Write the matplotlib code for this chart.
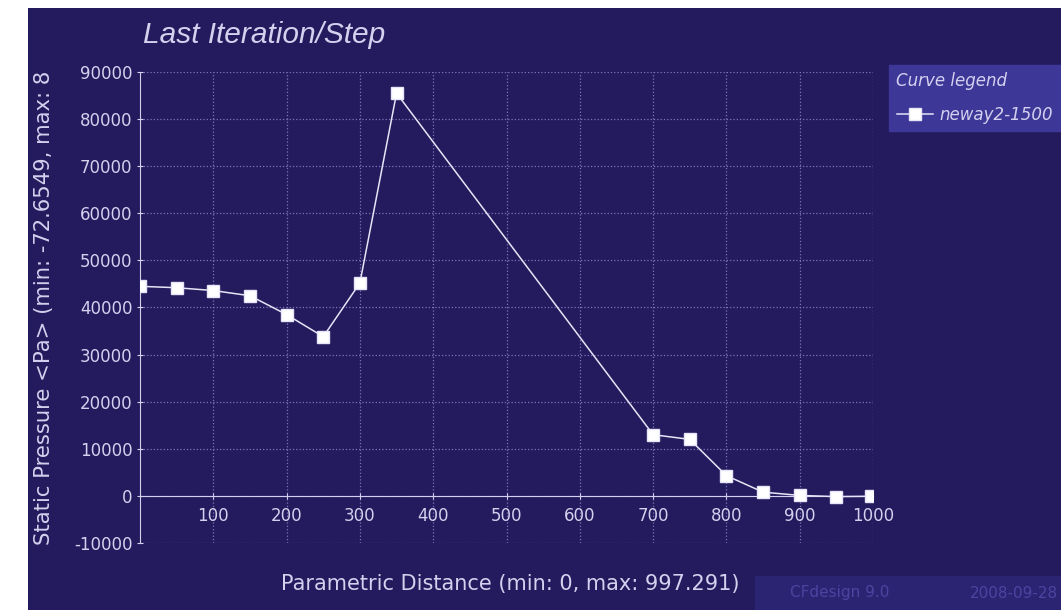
import matplotlib
matplotlib.use("Agg")
import matplotlib.pyplot as plt
from matplotlib.patches import Rectangle

# curve values
distance = [0, 50, 100, 150, 200, 250, 300, 350, 700, 750, 800, 850, 900, 950, 997.291]
pressure = [44500, 44200, 43600, 42500, 38500, 33800, 45200, 85500,
            13000, 12000, 4300, 800, 100, -150, -72.6549]
x_ticks = [100, 200, 300, 400, 500, 600, 700, 800, 900, 1000]
y_ticks = [-10000, 0, 10000, 20000, 30000, 40000, 50000, 60000, 70000, 80000, 90000]

bg = '#241b5e'
fg = '#d4d0ee'
grid_c = '#7c76b8'

fig = plt.figure(figsize=(10.61, 6.10), dpi=100, facecolor='white')
W, H = 1061, 610

# dark panel behind everything
fig.patches.append(Rectangle((28 / W, 0), 1, (H - 8) / H, transform=fig.transFigure,
                             facecolor=bg, edgecolor='none', zorder=-2))
# faint footer box
fig.patches.append(Rectangle((755 / W, 0), 1, 34 / H, transform=fig.transFigure,
                             facecolor='#2b2473', edgecolor='none', zorder=-1))
fig.text(790 / W, 17 / H, 'CFdesign 9.0', color='#4a45a0', fontsize=11,
         va='center')
fig.text(1058 / W, 17 / H, '2008-09-28', color='#4a45a0', fontsize=11,
         va='center', ha='right')

ax = fig.add_axes([140 / W, (H - 543) / H, 733 / W, 471 / H])
ax.set_facecolor('none')
ax.set_xlim(0, 1000)
ax.set_ylim(-10000, 90000)

for s in ['top', 'right']:
    ax.spines[s].set_visible(False)
ax.spines['bottom'].set_position(('data', 0))
ax.spines['left'].set_position(('data', 0))
ax.spines['bottom'].set_color(fg)
ax.spines['left'].set_color(fg)

ax.set_xticks(x_ticks)
ax.set_yticks(y_ticks)
ax.set_yticklabels([str(v) for v in y_ticks])
ax.tick_params(colors=fg, labelsize=12, length=4, direction='inout')
ax.tick_params(axis='x', pad=6)
ax.grid(True, color=grid_c, linestyle=':', linewidth=0.9)

ax.plot(distance, pressure, color='#e6e4f6', linewidth=1.1, marker='s',
        markersize=8, markerfacecolor='white', markeredgecolor='#e6e4f6',
        label='neway2-1500', zorder=5)

fig.text(143 / W, (H - 43) / H, 'Last Iteration/Step', color=fg, fontsize=21.5,
         fontstyle='italic', family='Liberation Sans', va='baseline')

fig.text(510 / W, (H - 584) / H, 'Parametric Distance (min: 0, max: 997.291)',
         color=fg, fontsize=15, ha='center', va='center')

# the label is cut short in the original screenshot
fig.text(44 / W, (H - 545) / H, 'Static Pressure <Pa> (min: -72.6549, max: 8',
         color=fg, fontsize=15.2, rotation=90, ha='center', va='bottom')

leg = ax.legend(loc='upper left',
                bbox_to_anchor=(889 / W, (H - 133) / H, (W - 889) / W, 68 / H),
                bbox_transform=fig.transFigure, mode='expand', title='Curve legend',
                frameon=True, fancybox=False, borderaxespad=0, borderpad=0.45,
                labelspacing=0.9, prop={'style': 'italic', 'size': 12},
                handlelength=2.2, handletextpad=0.35)
leg.get_frame().set_facecolor('#3d3898')
leg.get_frame().set_edgecolor('#3d3898')
leg.get_frame().set_alpha(1)
leg.get_title().set_color(fg)
leg.get_title().set_fontstyle('italic')
leg.get_title().set_fontsize(12)
leg._legend_box.align = 'left'
for t in leg.get_texts():
    t.set_color(fg)

fig.savefig('out.png', dpi=100, facecolor=fig.get_facecolor())
